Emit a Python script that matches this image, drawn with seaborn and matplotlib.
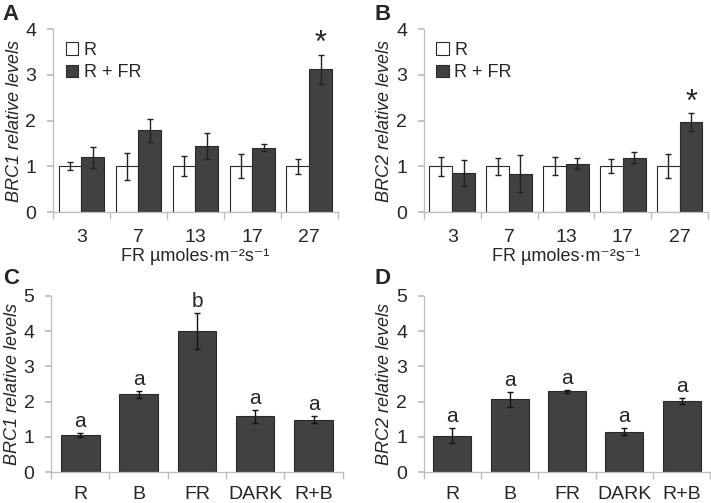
import pandas as pd
import numpy as np
import seaborn as sns
import matplotlib.pyplot as plt

# Panel A/B: FR fluence series
fr_levels = ["3", "7", "13", "17", "27"]
conds = ["R", "R + FR"]

brc1_r = [1, 1, 1, 1, 1]
brc1_r_err = [0.085, 0.30, 0.22, 0.26, 0.17]
brc1_rfr = [1.20, 1.79, 1.44, 1.41, 3.12]
brc1_rfr_err = [0.23, 0.25, 0.28, 0.08, 0.32]

brc2_r = [1, 1, 1, 1, 1]
brc2_r_err = [0.21, 0.18, 0.20, 0.15, 0.26]
brc2_rfr = [0.85, 0.84, 1.06, 1.19, 1.97]
brc2_rfr_err = [0.28, 0.41, 0.12, 0.12, 0.19]

# Panel C/D: light quality
lights = ["R", "B", "FR", "DARK", "R+B"]
brc1_light = [1.05, 2.21, 4.00, 1.58, 1.48]
brc1_light_err = [0.06, 0.10, 0.51, 0.18, 0.10]
brc1_letters = ["a", "a", "b", "a", "a"]
brc2_light = [1.03, 2.06, 2.29, 1.15, 2.02]
brc2_light_err = [0.21, 0.21, 0.04, 0.11, 0.09]
brc2_letters = ["a", "a", "a", "a", "a"]

sns.set_theme(style="white")
plt.rcParams['font.family'] = ['Liberation Sans', 'DejaVu Sans']

DARK = "#414141"
EDGE = "#2a2a2a"
AX_GRAY = "#bdbdbd"

fig = plt.figure(figsize=(7.11, 5.03), dpi=100)
axA = fig.add_axes([0.0745, 0.5785, 0.4005, 0.3635])
axB = fig.add_axes([0.596, 0.5785, 0.400, 0.3635])
axC = fig.add_axes([0.072, 0.0616, 0.410, 0.350])
axD = fig.add_axes([0.596, 0.0616, 0.403, 0.350])


def style_axes(ax, ymax, ylabel, xpad):
    ax.set_ylim(0, ymax)
    ax.set_xlim(-0.5, 4.5)
    ax.set_yticks(range(0, ymax + 1))
    for s in ["top", "right"]:
        ax.spines[s].set_visible(False)
    for s in ["left", "bottom"]:
        ax.spines[s].set_color(AX_GRAY)
        ax.spines[s].set_linewidth(0.9)
    ax.tick_params(axis="y", left=True, length=4, color=AX_GRAY, labelsize=14, pad=8)
    ax.tick_params(axis="x", bottom=False, labelsize=14, pad=xpad)
    ax.set_xticks(np.arange(-0.5, 5, 1), minor=True)
    ax.tick_params(axis="x", which="minor", bottom=True, length=5, color=AX_GRAY)
    ax.set_ylabel(ylabel, fontsize=13, style="italic", labelpad=2)


def fr_panel(ax, r, r_err, rfr, rfr_err, ylabel, letter, lx):
    df = pd.DataFrame({
        "fr": fr_levels * 2,
        "cond": ["R"] * 5 + ["R + FR"] * 5,
        "value": r + rfr,
    })
    sns.barplot(data=df, x="fr", y="value", hue="cond", order=fr_levels,
                hue_order=conds, palette={"R": "white", "R + FR": DARK},
                edgecolor=EDGE, linewidth=0.8, errorbar=None, width=0.8, ax=ax)
    for cont, errs in zip(ax.containers, [r_err, rfr_err]):
        for bar, e in zip(cont, errs):
            xc = bar.get_x() + bar.get_width() / 2
            ax.errorbar(xc, bar.get_height(), yerr=e, color="#222222",
                        lw=1, capsize=2.5, capthick=1)
    top = ax.containers[1][4]
    ax.text(top.get_x() + top.get_width() / 2,
            top.get_height() + rfr_err[4] + 0.06, "*",
            ha="center", va="baseline", fontsize=22)
    style_axes(ax, 4, ylabel, 6)
    ax.set_xlabel("FR µmoles·m⁻²s⁻¹", fontsize=13, labelpad=2)
    ax.legend(loc="upper left", frameon=False, fontsize=13,
              handlelength=0.7, handleheight=0.7, handletextpad=0.3,
              borderaxespad=0.3, labelspacing=0.3)
    fig.text(lx, 0.993, letter, fontsize=16, fontweight="bold", va="top", ha="left")


def light_panel(ax, vals, errs, letters, ylabel, letter, lx):
    df = pd.DataFrame({"light": lights, "value": vals})
    sns.barplot(data=df, x="light", y="value", order=lights, color=DARK,
                edgecolor=EDGE, linewidth=0.8, errorbar=None, width=0.66,
                saturation=1, ax=ax)
    for bar, e, t in zip(ax.containers[0], errs, letters):
        xc = bar.get_x() + bar.get_width() / 2
        ax.errorbar(xc, bar.get_height(), yerr=e, color="#111111",
                    lw=1, capsize=2.5, capthick=1)
        ax.text(xc, bar.get_height() + e + 0.06, t, ha="center",
                va="bottom", fontsize=15)
    style_axes(ax, 5, ylabel, 4)
    ax.set_xlabel("")
    fig.text(lx, 0.468, letter, fontsize=16, fontweight="bold", va="top", ha="left")


fr_panel(axA, brc1_r, brc1_r_err, brc1_rfr, brc1_rfr_err,
         "BRC1 relative levels", "A", 0.004)
fr_panel(axB, brc2_r, brc2_r_err, brc2_rfr, brc2_rfr_err,
         "BRC2 relative levels", "B", 0.527)
light_panel(axC, brc1_light, brc1_light_err, brc1_letters,
            "BRC1 relative levels", "C", 0.004)
light_panel(axD, brc2_light, brc2_light_err, brc2_letters,
            "BRC2 relative levels", "D", 0.527)

fig.savefig("out.png", dpi=100)
